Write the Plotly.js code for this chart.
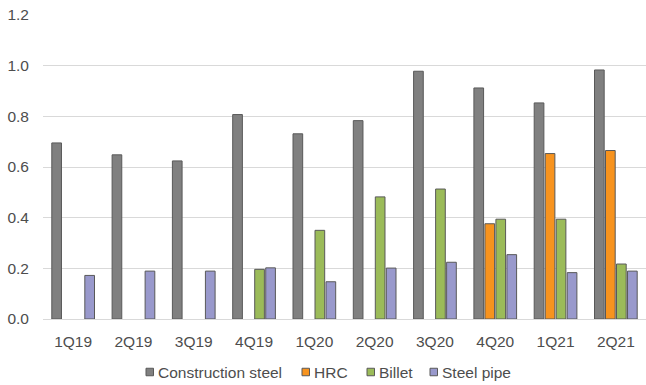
<!DOCTYPE html>
<html><head><meta charset="utf-8">
<script src="https://cdn.plot.ly/plotly-3.0.1.min.js"></script>
<style>html,body{margin:0;padding:0;background:#fff;}#chart{width:646px;height:385px;}</style>
</head><body><div id="chart"></div>
<script>
const quarters = ["1Q19","2Q19","3Q19","4Q19","1Q20","2Q20","3Q20","4Q20","1Q21","2Q21"];
const constructionSteel = [0.695,0.648,0.624,0.807,0.731,0.783,0.978,0.912,0.853,0.983];
const hrc = [null,null,null,null,null,null,null,0.376,0.653,0.665];
const billet = [null,null,null,0.196,0.350,0.482,0.513,0.394,0.394,0.217];
const steelPipe = [0.172,0.189,0.189,0.202,0.147,0.201,0.224,0.254,0.183,0.189];
const seriesNames = ["Construction steel","HRC","Billet","Steel pipe"];
const seriesColors = ["#808080","#f7931e","#9bbb59","#9999cc"];
const seriesValues = [constructionSteel, hrc, billet, steelPipe];

const W = 646, H = 385, M = {l:43, r:0, t:15, b:66};
const outline = "#595959";
const textColor = "#4d4d4d";
const fontFam = "Liberation Sans, Arial, sans-serif";
const fs = 15.5;

const data = seriesNames.map((n,i) => ({
  type:"bar", x:quarters, y:seriesValues[i], name:n, showlegend:false,
  marker:{color:seriesColors[i], line:{color:outline, width:1}}
}));

// custom legend (small square swatch + label), positioned in pixels
const pw = W - M.l - M.r, ph = H - M.t - M.b;
const legendY = 372;
const swatchLeft = [146, 302, 367, 430];
const shapes = [], annotations = [];
seriesNames.forEach((n,i) => {
  const xp = (swatchLeft[i] - M.l) / pw;
  const yp = (H - M.b - legendY) / ph;
  shapes.push({type:"rect", xref:"paper", yref:"paper", xsizemode:"pixel", ysizemode:"pixel",
    xanchor:xp, yanchor:yp, x0:0, x1:7.5, y0:-3.75, y1:3.75,
    fillcolor:seriesColors[i], line:{color:outline, width:1}});
  annotations.push({xref:"paper", yref:"paper", x:(swatchLeft[i] + 10 - M.l) / pw, y:yp,
    xanchor:"left", yanchor:"middle", showarrow:false, text:n,
    font:{family:fontFam, size:fs, color:textColor}});
});

const layout = {
  width:W, height:H, margin:M,
  paper_bgcolor:"#fff", plot_bgcolor:"#fff",
  barmode:"group", bargap:0.27, bargroupgap:0.12,
  font:{family:fontFam, size:fs, color:textColor},
  xaxis:{showgrid:false, zeroline:false, showline:false, ticks:"", ticklabelstandoff:11, tickfont:{size:fs}},
  yaxis:{range:[0,1.2], dtick:0.2, tickformat:".1f", showgrid:true, gridcolor:"#d9d9d9", gridwidth:1,
         zeroline:true, zerolinecolor:"#d9d9d9", zerolinewidth:1, showline:false, ticks:"", ticklabelstandoff:13, tickfont:{size:fs}},
  showlegend:false,
  shapes:shapes, annotations:annotations
};
Plotly.newPlot("chart", data, layout, {displayModeBar:false, staticPlot:true});
</script></body></html>
